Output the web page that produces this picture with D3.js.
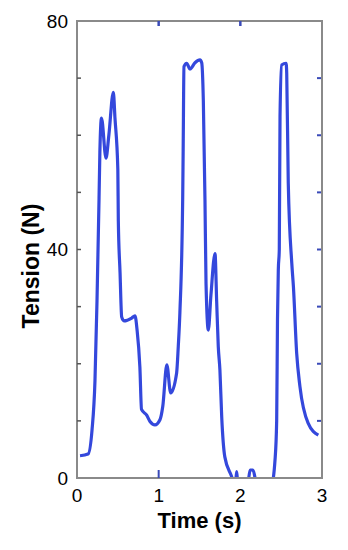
<!DOCTYPE html>
<html>
<head>
<meta charset="utf-8">
<script src="https://cdn.jsdelivr.net/npm/d3@7"></script>
<style>
  body { margin: 0; background: #fff; }
  text { font-family: "Liberation Sans", Arial, sans-serif; }
</style>
</head>
<body>
<div id="chart"></div>
<script>
// time (s) and tension (N)
const times = [0.037, 0.135, 0.184, 0.22, 0.245, 0.27, 0.28, 0.30, 0.355, 0.39, 0.445, 0.465, 0.50, 0.506,
  0.527, 0.547, 0.575, 0.67, 0.71, 0.735, 0.77, 0.79, 0.853, 0.894, 0.955, 1.016, 1.05, 1.10, 1.147,
  1.22, 1.24, 1.26, 1.294, 1.30, 1.31, 1.343, 1.384, 1.445, 1.506, 1.527, 1.547, 1.567, 1.58, 1.608,
  1.64, 1.69, 1.71, 1.73, 1.75, 1.772, 1.81, 1.894, 1.92, 1.94, 1.955, 1.97, 2.09, 2.12, 2.155, 2.20,
  2.384, 2.425, 2.445, 2.455, 2.465, 2.477, 2.486, 2.506, 2.56, 2.568, 2.587, 2.63, 2.65, 2.69, 2.73,
  2.83, 2.955];
const tension = [3.9, 4.2, 8.4, 17, 31, 49, 57, 63, 56, 60, 67.5, 63, 54, 45,
  36, 28.2, 27.5, 28, 28.4, 26, 19.4, 12, 11, 9.9, 9.3, 10.2, 12.5, 19.8, 14.9,
  18.4, 23, 29, 48.7, 57.4, 72, 72.6, 71.6, 72.7, 73.2, 72.7, 66, 48.7, 34, 25.9,
  32, 39.3, 31, 23, 18.9, 10.7, 3.7, 0.2, -1, -1, 1.1, -1, -1, 1.4, 1.4, -1,
  -1, 3.2, 10, 27.7, 36.4, 40, 63.3, 72.3, 72.6, 70.9, 51.6, 37.6, 33.5, 21.8, 16,
  9.6, 7.5];
const xTicks = [0, 1, 2, 3];
const yTicks = [0, 40, 80];
const minorY = [10, 20, 30, 40, 50, 60, 70];

const W = 348, H = 550;
const m = { top: 21, right: 26, bottom: 72, left: 77 };

const svg = d3.select("#chart").append("svg")
  .attr("width", W)
  .attr("height", H);

const x = d3.scaleLinear().domain([0, 3]).range([m.left, W - m.right]);
const y = d3.scaleLinear().domain([0, 80]).range([H - m.bottom, m.top]);

const data = times.map((t, i) => ({ t: t, v: tension[i] }));

svg.append("clipPath").attr("id", "clip")
  .append("rect")
  .attr("x", x(0)).attr("y", y(80))
  .attr("width", x(3) - x(0)).attr("height", y(0) - y(80));

// trace
const line = d3.line()
  .x(d => x(d.t))
  .y(d => y(d.v))
  .curve(d3.curveMonotoneX);

svg.append("path")
  .datum(data)
  .attr("clip-path", "url(#clip)")
  .attr("fill", "none")
  .attr("stroke", "#3448dc")
  .attr("stroke-width", 3.2)
  .attr("stroke-linejoin", "round")
  .attr("d", line);

// frame
svg.append("rect")
  .attr("x", x(0)).attr("y", y(80))
  .attr("width", x(3) - x(0)).attr("height", y(0) - y(80))
  .attr("fill", "none")
  .attr("stroke", "#8a8a8a")
  .attr("stroke-width", 2);

// small inner ticks
svg.append("g").selectAll("line").data(minorY).join("line")
  .attr("x1", x(0)).attr("x2", x(0) + 4)
  .attr("y1", d => y(d)).attr("y2", d => y(d))
  .attr("stroke", "#555").attr("stroke-width", 1.5);

svg.append("g").selectAll("line").data(minorY).join("line")
  .attr("x1", x(3) - 5).attr("x2", x(3) - 1)
  .attr("y1", d => y(d)).attr("y2", d => y(d))
  .attr("stroke", "#3a4ab8").attr("stroke-width", 2);

svg.append("g").selectAll("line").data([1, 2]).join("line")
  .attr("x1", d => x(d)).attr("x2", d => x(d))
  .attr("y1", y(80)).attr("y2", y(80) + 5)
  .attr("stroke", "#3a4ab8").attr("stroke-width", 2.5);

svg.append("line")
  .attr("x1", x(1)).attr("x2", x(1))
  .attr("y1", y(0)).attr("y2", y(0) - 8)
  .attr("stroke", "#3a4ab8").attr("stroke-width", 2);

// tick labels
svg.append("g").selectAll("text").data(yTicks).join("text")
  .attr("x", x(0) - 9)
  .attr("y", d => y(d))
  .attr("dy", "0.35em")
  .attr("text-anchor", "end")
  .attr("font-size", 19)
  .text(d => d);

svg.append("g").selectAll("text").data(xTicks).join("text")
  .attr("x", d => x(d))
  .attr("y", 502)
  .attr("text-anchor", "middle")
  .attr("font-size", 19)
  .text(d => d);

// axis titles
svg.append("text")
  .attr("x", (x(0) + x(3)) / 2)
  .attr("y", 528)
  .attr("text-anchor", "middle")
  .attr("font-size", 22)
  .attr("font-weight", "bold")
  .text("Time (s)");

svg.append("text")
  .attr("transform", "translate(39,266) rotate(-90)")
  .attr("text-anchor", "middle")
  .attr("font-size", 23)
  .attr("font-weight", "bold")
  .text("Tension (N)");
</script>
</body>
</html>
